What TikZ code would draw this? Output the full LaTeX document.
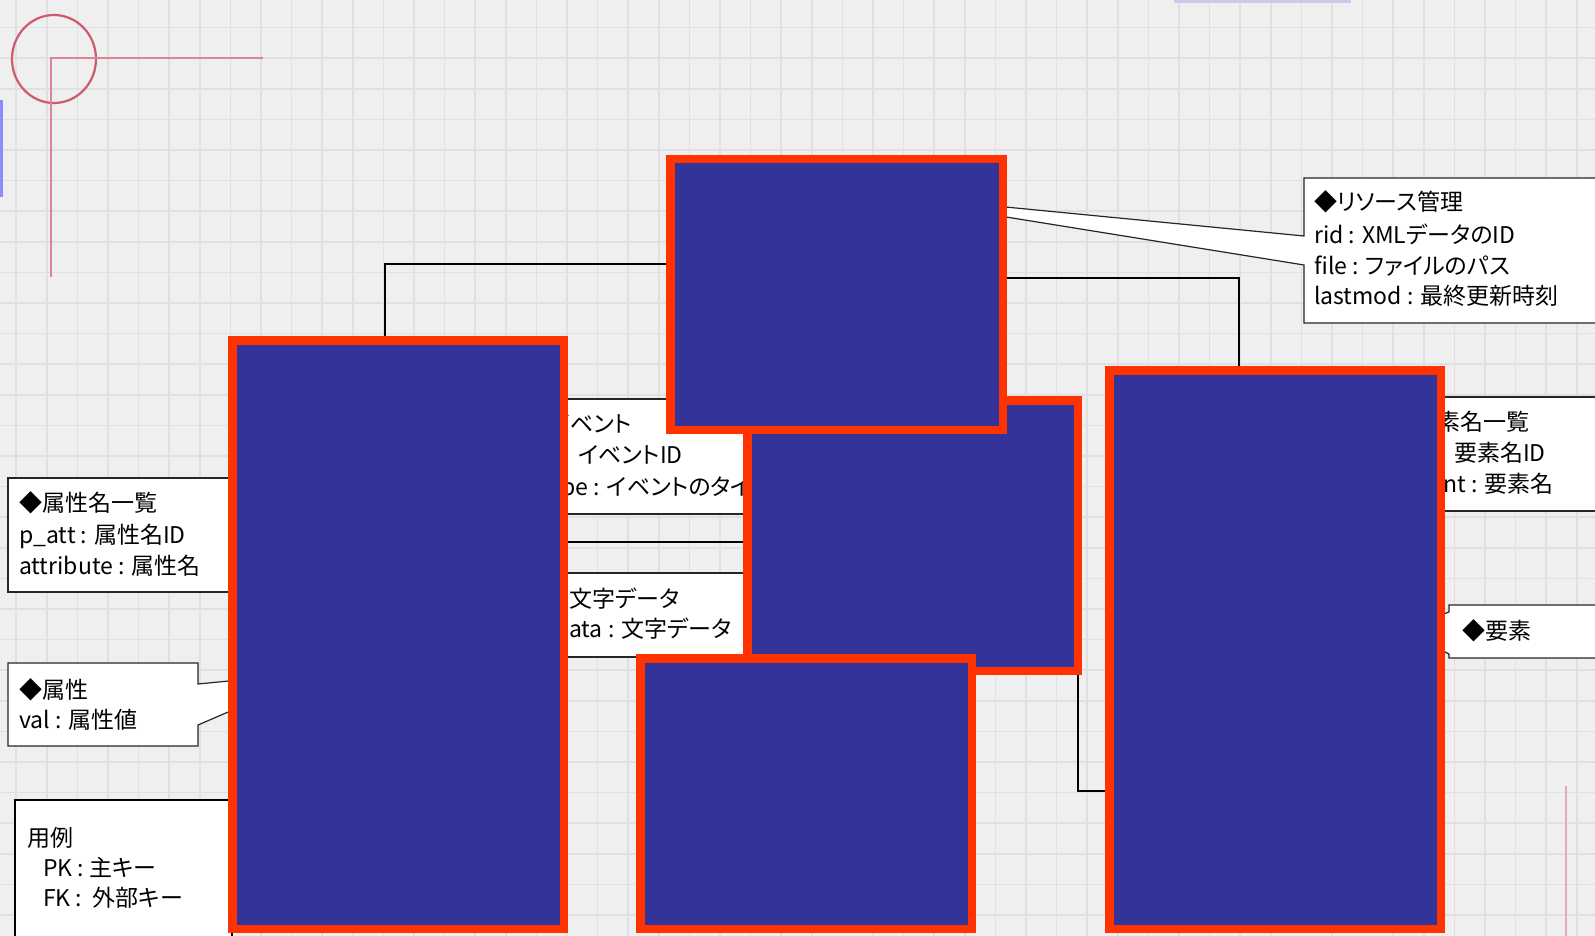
\documentclass[tikz,border=0pt]{standalone}
\usepackage{fontspec}
\newfontfamily\jpfont[RawFeature=+palt]{Noto Sans CJK JP}

\definecolor{boxblue}{RGB}{52,51,153}
\definecolor{boxred}{RGB}{255,51,0}
\definecolor{paper}{RGB}{239,239,239}
\definecolor{paperline}{RGB}{224,224,226}
\definecolor{pencil}{RGB}{205,90,110}
\definecolor{pencillight}{RGB}{215,135,150}

\pgfdeclarelayer{paperlayer}
\pgfdeclarelayer{underlayer}
\pgfsetlayers{paperlayer,underlayer,main}

\tikzset{
  tbl/.style={draw=boxred, fill=boxblue, line width=8.5pt, inner sep=0pt},
  link/.style={draw=black, line width=2.5pt},
  memo/.style={draw=black!85, fill=white, line width=1.2pt},
  legendbox/.style={draw=black, fill=white, line width=2pt},
  gridline/.style={draw=paperline, line width=1.6pt},
  memotext/.style={anchor=base west, inner sep=0pt, font=\jpfont\fontsize{23}{28}\selectfont},
}

\begin{document}
\begin{tikzpicture}[x=1pt, y=-1pt]
  \useasboundingbox (0,0) rectangle (1595,936);

  % Tables (covered)
  \node[tbl, minimum width=330.5pt, minimum height=270.5pt] (tblC) at (912.5,535.5) {};
  \node[tbl, minimum width=332.5pt, minimum height=270.5pt] (tblA) at (836.5,294.5) {};
  \node[tbl, minimum width=331.5pt, minimum height=270.5pt] (tblD) at (806,793.5) {};
  \node[tbl, minimum width=331.5pt, minimum height=588.5pt] (tblB) at (398,634.5) {};
  \node[tbl, minimum width=331.5pt, minimum height=558.5pt] (tblE) at (1275,649.5) {};

  \begin{pgfonlayer}{paperlayer}
    % Graph paper
    \fill[paper] (0,0) rectangle (1595,936);
    \foreach \gx in {0,...,51}
      \draw[gridline] ({16.2+30.6*\gx},0) -- ++(0,936);
    \foreach \gy in {0,...,29}
      \draw[gridline] (0,{27.6+30.6*\gy}) -- ++(1595,0);
    % Pencil marks
    \draw[pencil, line width=2.2pt] (54,59) ellipse[x radius=42, y radius=44];
    \draw[pencillight, line width=1.8pt] (263,58) -- (51,58) -- (51,277);
    \draw[pencillight!70, line width=1.5pt] (1566,786) -- (1566,936);
    \fill[blue!45!white] (0,100) rectangle (3,197);
    \fill[gray!60!blue!30] (1174,0) rectangle (1351,3);
  \end{pgfonlayer}

  \begin{pgfonlayer}{underlayer}
    % Relations
    \coordinate (bendBA) at (385,264);
    \draw[link] (tblB.north -| bendBA) |- (tblA.west |- bendBA);
    \coordinate (bendAE) at (1239,278);
    \draw[link] (tblA.east |- bendAE) -| (tblE.north -| bendAE);
    \coordinate (levelBC) at (600,542);
    \draw[link] (tblB.east |- levelBC) -- (tblC.west |- levelBC);
    \coordinate (bendCE) at (1078,791);
    \draw[link] (tblC.south -| bendCE) |- (tblE.west |- bendCE);

    % Resource note
    \draw[memo] (1620,178) -- (1304,178) -- (1304,236) -- (851,192) -- (1304,265)
      -- (1304,323) -- (1620,323);
    \node[memotext] (resTitle) at (1314,211) {◆リソース管理};
    \node[memotext] (resRid)   at (1314,243) {rid : XMLデータのID};
    \node[memotext] (resFile)  at (1314,274) {file : ファイルのパス};
    \node[memotext] (resMod)   at (1314,304) {lastmod : 最終更新時刻};

    % Event note
    \draw[memo] (540,399) rectangle (800,514);
    \node[memotext] (evTitle) at (550,432) {イベント};
    \node[memotext] (evId)    at (578,463) {イベントID};
    \node[memotext] (evType)  at (561,495) {pe : イベントのタイ};

    % Character data note
    \draw[memo] (540,573) rectangle (800,657);
    \node[memotext] (chTitle) at (569,607) {文字データ};
    \node[memotext] (chData)  at (569,637) {ata : 文字データ};

    % Attribute name list note
    \draw[memo] (8,478) rectangle (232,592);
    \node[memotext] (anTitle) at (19,511) {◆属性名一覧};
    \node[memotext] (anId)    at (19,543) {p\_att : 属性名ID};
    \node[memotext] (anName)  at (19,574) {attribute : 属性名};

    % Attribute note
    \draw[memo] (8,663) -- (198,663) -- (198,684) -- (321,672) -- (198,725)
      -- (198,746) -- (8,746) -- cycle;
    \node[memotext] (atTitle) at (19,698) {◆属性};
    \node[memotext] (atVal)   at (19,728) {val : 属性値};

    % Legend
    \draw[legendbox] (15,800) rectangle (232,980);
    \node[memotext] (lgTitle) at (27,846) {用例};
    \node[memotext] (lgPk)    at (43,876) {PK : 主キー};
    \node[memotext] (lgFk)    at (43,906) {FK : \ 外部キー};

    % Element name list note
    \draw[memo] (1400,397) rectangle (1620,511);
    \node[memotext] (enTitle) at (1437,430) {素名一覧};
    \node[memotext] (enId)    at (1454,461) {要素名ID};
    \node[memotext] (enName)  at (1443,492) {nt : 要素名};

    % Element note
    \draw[memo] (1620,605) -- (1449,605) -- (1449,612) -- (1400,630) -- (1449,654)
      -- (1449,658) -- (1620,658);
    \node[memotext] (elTitle) at (1462,639) {◆要素};
  \end{pgfonlayer}
\end{tikzpicture}
\end{document}
